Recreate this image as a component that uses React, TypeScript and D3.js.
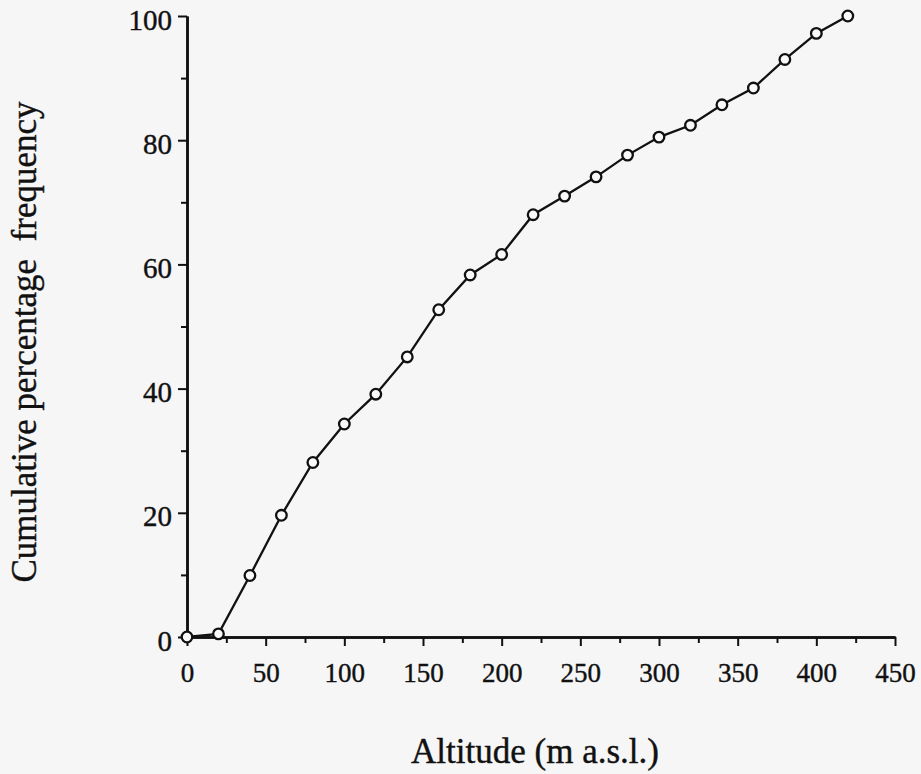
import React, { useEffect, useRef } from 'react';
import * as d3 from 'd3';

const width = 921;
const height = 774;
const margin = { top: 16, left: 187, right: 26, bottom: 137 };

// altitude classes (m a.s.l.) and cumulative % of nests
const altitude = [0, 20, 40, 60, 80, 100, 120, 140, 160, 180, 200, 220, 240, 260, 280, 300, 320, 340, 360, 380, 400, 420];
const cumFreq = [0, 0.5, 9.9, 19.6, 28.1, 34.3, 39.1, 45.1, 52.7, 58.3, 61.6, 68.0, 71.0, 74.1, 77.6, 80.5, 82.4, 85.7, 88.4, 93.0, 97.2, 100];

const xMajor = [0, 50, 100, 150, 200, 250, 300, 350, 400, 450];
const xMinor = [25, 75, 125, 175, 225, 275, 325, 375, 425];
const yMajor = [0, 20, 40, 60, 80, 100];
const yMinor = [10, 30, 50, 70, 90];

const xTitle = 'Altitude (m a.s.l.)';
const yTitle = 'Cumulative percentage  frequency';

const font = '"Liberation Serif", "Times New Roman", serif';
const ink = '#111';

const x = d3.scaleLinear().domain([0, 450]).range([margin.left, width - margin.right]);
const y = d3.scaleLinear().domain([0, 100]).range([height - margin.bottom, margin.top]);

export default function App() {
    const ref = useRef<SVGSVGElement>(null);

    useEffect(() => {
        document.body.style.margin = '0';
        const svg = d3.select(ref.current);
        svg.selectAll('*').remove();

        const styleAxis = (g: any) => {
            g.selectAll('.domain').attr('stroke', ink).attr('stroke-width', 2.5);
            g.selectAll('.tick line').attr('stroke', ink).attr('stroke-width', 2);
        };
        const styleText = (sel: any, size: number) => sel
            .attr('font-family', font)
            .attr('font-size', size)
            .attr('fill', ink)
            .attr('stroke', ink)
            .attr('stroke-width', 0.4);

        // x axis
        svg.append('g')
            .attr('transform', `translate(0,${y(0)})`)
            .call(d3.axisBottom(x).tickValues(xMinor).tickSize(6).tickSizeOuter(0).tickFormat(() => ''))
            .call(styleAxis);
        svg.append('g')
            .attr('transform', `translate(0,${y(0)})`)
            .call(d3.axisBottom(x).tickValues(xMajor).tickSize(9).tickSizeOuter(0).tickPadding(17))
            .call(styleAxis)
            .call(g => styleText(g.selectAll('.tick text'), 27));

        // y axis
        svg.append('g')
            .attr('transform', `translate(${x(0)},0)`)
            .call(d3.axisLeft(y).tickValues(yMinor).tickSize(6).tickSizeOuter(0).tickFormat(() => ''))
            .call(styleAxis);
        svg.append('g')
            .attr('transform', `translate(${x(0)},0)`)
            .call(d3.axisLeft(y).tickValues(yMajor).tickSize(9).tickSizeOuter(0).tickPadding(6))
            .call(styleAxis)
            .call(g => styleText(g.selectAll('.tick text'), 29).attr('dy', '0.45em'));

        // the series
        const line = d3.line<number>()
            .x((d, i) => x(altitude[i]))
            .y(d => y(d));
        svg.append('path')
            .datum(cumFreq)
            .attr('fill', 'none')
            .attr('stroke', ink)
            .attr('stroke-width', 2.3)
            .attr('d', line);

        svg.append('g')
            .selectAll('circle')
            .data(cumFreq)
            .join('circle')
            .attr('cx', (d, i) => x(altitude[i]))
            .attr('cy', d => y(d))
            .attr('r', 5.3)
            .attr('fill', '#fafafa')
            .attr('stroke', ink)
            .attr('stroke-width', 2.3);

        // titles
        svg.append('text')
            .attr('x', 535)
            .attr('y', 763)
            .attr('text-anchor', 'middle')
            .call(s => styleText(s, 35))
            .text(xTitle);

        svg.append('text')
            .attr('transform', 'translate(36,342) rotate(-90)')
            .attr('text-anchor', 'middle')
            .call(s => styleText(s, 35))
            .style('white-space', 'pre')
            .text(yTitle);
    }, []);

    return (
        <svg ref={ref} width={width} height={height}
             style={{ position: 'absolute', left: 0, top: 0, background: '#f6f6f6', display: 'block' }} />
    );
}
